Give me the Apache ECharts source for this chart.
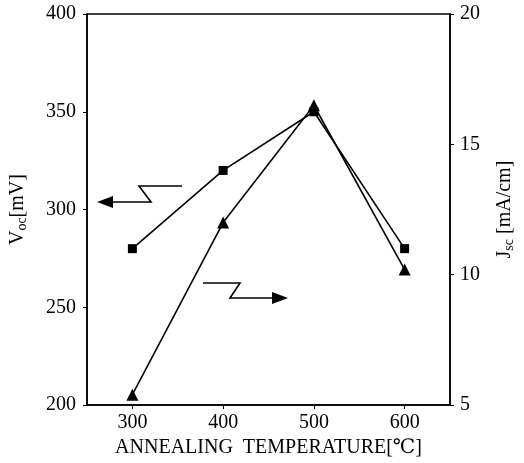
<!DOCTYPE html>
<html>
<head>
<meta charset="utf-8">
<script src="https://cdn.jsdelivr.net/npm/echarts@6/dist/echarts.min.js"></script>
<style>html,body{margin:0;padding:0;background:#fff}#c{width:524px;height:463px}</style>
</head>
<body>
<div id="c"></div>
<script>
const temperatures = [300, 400, 500, 600];
const vocValues = [280, 320, 350, 280];
const jscValues = [5.4, 12, 16.5, 10.2];
const xTickLabels = [300, 400, 500, 600];

const font = '"Liberation Serif", "DejaVu Serif", serif';
const chart = echarts.init(document.getElementById('c'));
const pair = (xs, ys) => xs.map((x, i) => [x, ys[i]]);

chart.setOption({
  animation: false,
  backgroundColor: '#fff',
  grid: { left: 83, right: 68, top: 14, bottom: 56, show: true, borderColor: '#000', borderWidth: 1.5, backgroundColor: 'transparent' },
  xAxis: {
    type: 'value', min: 250, max: 650,
    name: 'ANNEALING  TEMPERATURE[℃]', nameLocation: 'middle', nameGap: 32,
    nameTextStyle: { fontFamily: font, fontSize: 20, color: '#000' },
    axisLine: { show: true, lineStyle: { color: '#000', width: 1.5 } },
    axisTick: { show: true, customValues: xTickLabels, length: 4, lineStyle: { color: '#000' } },
    axisLabel: { customValues: xTickLabels, fontFamily: font, fontSize: 20, color: '#000', margin: 8 },
    splitLine: { show: false }
  },
  yAxis: [{
    type: 'value', min: 200, max: 400, interval: 50, position: 'left',
    name: '{v|V}{s|oc}{v|[mV]}', nameLocation: 'middle', nameGap: 58, nameRotate: 90,
    nameTextStyle: { rich: { v: { fontFamily: font, fontSize: 20, color: '#000' }, s: { fontFamily: font, fontSize: 14, color: '#000', padding: [8, 0, 0, 0] } } },
    axisLine: { show: true, lineStyle: { color: '#000', width: 1.5 } },
    axisTick: { show: true, length: 4, lineStyle: { color: '#000' } },
    axisLabel: { fontFamily: font, fontSize: 20, color: '#000', margin: 11 },
    splitLine: { show: false }
  }, {
    type: 'value', min: 5, max: 20, interval: 5, position: 'right',
    name: '{v|J}{s|sc}{v| [mA/cm]}', nameLocation: 'middle', nameGap: 44, nameRotate: 90,
    nameTextStyle: { rich: { v: { fontFamily: font, fontSize: 20, color: '#000' }, s: { fontFamily: font, fontSize: 14, color: '#000', padding: [8, 0, 0, 0] } } },
    axisLine: { show: true, lineStyle: { color: '#000', width: 1.5 } },
    axisTick: { show: true, length: 4, lineStyle: { color: '#000' } },
    axisLabel: { fontFamily: font, fontSize: 20, color: '#000', margin: 10 },
    splitLine: { show: false }
  }],
  series: [{
    name: 'Voc', type: 'line', yAxisIndex: 0, data: pair(temperatures, vocValues),
    symbol: 'rect', symbolSize: 9,
    lineStyle: { color: '#000', width: 1.6 }, itemStyle: { color: '#000' }
  }, {
    name: 'Jsc', type: 'line', yAxisIndex: 1, data: pair(temperatures, jscValues),
    symbol: 'triangle', symbolSize: 12,
    lineStyle: { color: '#000', width: 1.6 }, itemStyle: { color: '#000' }
  }],
  graphic: [
    { type: 'polyline', shape: { points: [[182, 186], [139, 186], [151, 202], [106, 202]] }, style: { stroke: '#000', lineWidth: 1.6, fill: null } },
    { type: 'polygon', shape: { points: [[97, 202], [113, 196], [113, 208]] }, style: { fill: '#000' } },
    { type: 'polyline', shape: { points: [[203, 283], [240, 283], [230, 298], [278, 298]] }, style: { stroke: '#000', lineWidth: 1.6, fill: null } },
    { type: 'polygon', shape: { points: [[288, 298], [272, 292], [272, 304]] }, style: { fill: '#000' } }
  ]
});
</script>
</body>
</html>
